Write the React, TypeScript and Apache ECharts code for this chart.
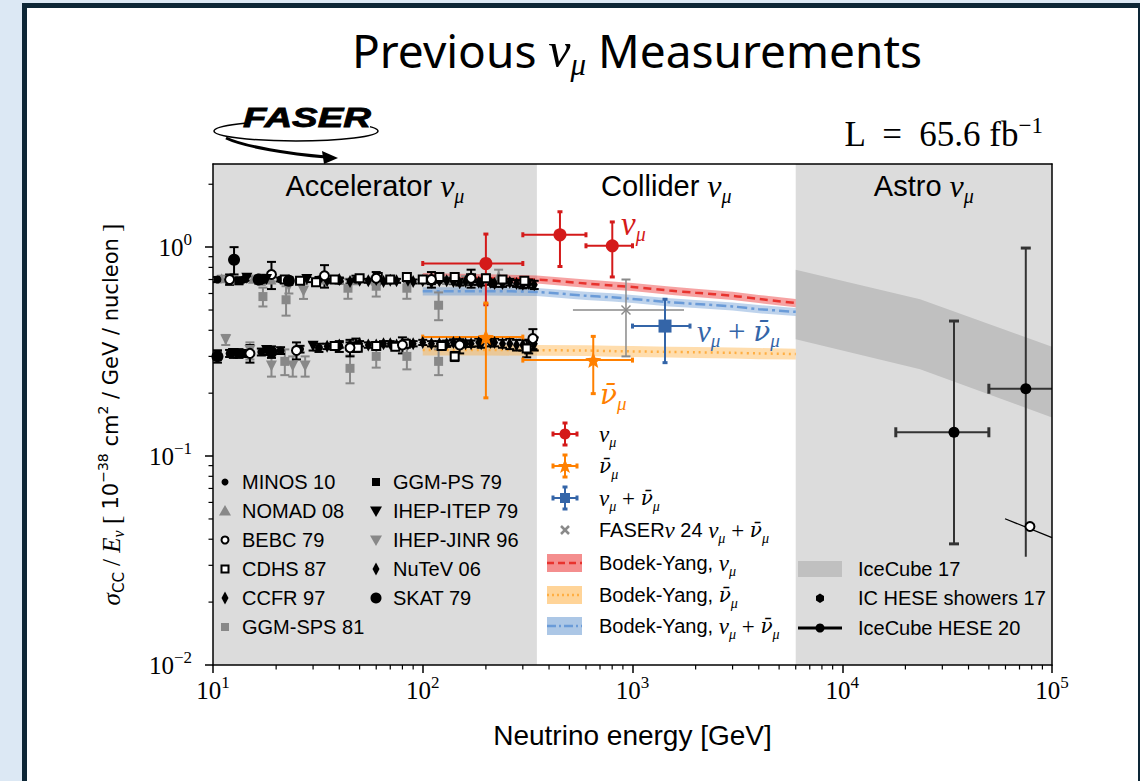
import React, { useEffect, useRef } from "react";
import * as echarts from "echarts";

// ---------------- axes ----------------
const X_RANGE = [10, 100000];
const Y_RANGE = [0.01, 2.5];
const X_MAJOR_TICKS = [10, 100, 1000, 10000, 100000];
const Y_MAJOR_TICKS = [0.01, 0.1, 1];
const X_MINOR_TICKS = [20, 30, 40, 50, 60, 70, 80, 90, 200, 300, 400, 500, 600, 700, 800, 900, 2000, 3000, 4000, 5000, 6000, 7000, 8000, 9000, 20000, 30000, 40000, 50000, 60000, 70000, 80000, 90000];
const Y_MINOR_TICKS = [0.02, 0.03, 0.04, 0.05, 0.06, 0.07, 0.08, 0.09, 0.2, 0.3, 0.4, 0.5, 0.6, 0.7, 0.8, 0.9, 2];

// ---------------- regions ----------------
const REGION_BOUNDS = [[10, 350], [350, 6000], [6000, 100000]];
const REGION_NAMES = ["Accelerator ", "Collider ", "Astro "];

// ---------------- accelerator data [E, sigma/E, err] ----------------
const MINOS_NU = [[10.5, 0.70, 0.02], [12, 0.69, 0.015], [14, 0.70, 0.015], [17, 0.69, 0.015], [21, 0.70, 0.015], [26, 0.69, 0.015], [32, 0.70, 0.02], [40, 0.69, 0.02], [48, 0.70, 0.03]];
const MINOS_NUBAR = [[10.5, 0.305, 0.015], [12, 0.31, 0.012], [14, 0.31, 0.012], [17, 0.315, 0.012], [21, 0.32, 0.012], [26, 0.325, 0.012], [32, 0.33, 0.015], [40, 0.335, 0.02], [48, 0.34, 0.025]];
const NOMAD_NU = [[11, 0.71, 0.02], [13, 0.70, 0.015], [15.5, 0.705, 0.015], [19, 0.70, 0.015], [23, 0.70, 0.015], [27, 0.695, 0.015], [33, 0.70, 0.015], [40, 0.70, 0.015], [48, 0.695, 0.015], [58, 0.70, 0.015], [70, 0.70, 0.015], [85, 0.70, 0.015], [105, 0.705, 0.02], [130, 0.70, 0.02], [160, 0.70, 0.025], [200, 0.71, 0.03], [230, 0.73, 0.05]];
const BEBC_NU = [[12, 0.70, 0.04], [19, 0.74, 0.11], [34, 0.73, 0.09], [60, 0.71, 0.05], [110, 0.70, 0.06], [170, 0.71, 0.07]];
const BEBC_NUBAR = [[15, 0.31, 0.03], [25, 0.32, 0.03], [45, 0.33, 0.03], [80, 0.34, 0.03], [150, 0.34, 0.03], [335, 0.365, 0.04]];
const CDHS_NU = [[22, 0.70, 0.015], [26, 0.69, 0.015], [31, 0.68, 0.015], [38, 0.70, 0.015], [50, 0.71, 0.015], [61, 0.72, 0.015], [70, 0.70, 0.015], [84, 0.72, 0.03], [100, 0.70, 0.02], [120, 0.72, 0.02], [142, 0.72, 0.02], [170, 0.71, 0.02], [200, 0.71, 0.025], [240, 0.70, 0.025], [305, 0.69, 0.03]];
const CDHS_NUBAR = [[38, 0.336, 0.01], [49, 0.33, 0.01], [60, 0.336, 0.01], [74, 0.334, 0.01], [83, 0.345, 0.012], [123, 0.336, 0.012], [142, 0.30, 0.015], [313, 0.327, 0.03]];
const CCFR_NU = [[35, 0.69, 0.015], [45, 0.685, 0.015], [55, 0.69, 0.015], [65, 0.685, 0.015], [75, 0.69, 0.015], [90, 0.685, 0.015], [110, 0.68, 0.015], [130, 0.69, 0.02], [150, 0.675, 0.02], [170, 0.68, 0.02], [190, 0.675, 0.02], [220, 0.67, 0.025], [260, 0.68, 0.025], [300, 0.665, 0.03], [340, 0.66, 0.03]];
const CCFR_NUBAR = [[35, 0.335, 0.01], [45, 0.34, 0.01], [55, 0.34, 0.01], [65, 0.345, 0.01], [75, 0.34, 0.01], [90, 0.345, 0.01], [110, 0.345, 0.01], [130, 0.345, 0.012], [150, 0.35, 0.012], [170, 0.345, 0.012], [190, 0.345, 0.015], [220, 0.35, 0.015], [260, 0.345, 0.02], [300, 0.34, 0.02], [340, 0.345, 0.025]];
const NUTEV_NU = [[40, 0.70, 0.015], [50, 0.695, 0.015], [60, 0.70, 0.015], [70, 0.695, 0.015], [85, 0.695, 0.015], [100, 0.69, 0.015], [120, 0.69, 0.015], [140, 0.685, 0.02], [160, 0.685, 0.02], [185, 0.68, 0.02], [210, 0.68, 0.02], [240, 0.67, 0.025], [280, 0.67, 0.025], [320, 0.67, 0.03]];
const NUTEV_NUBAR = [[40, 0.34, 0.01], [50, 0.345, 0.01], [60, 0.34, 0.01], [70, 0.345, 0.01], [85, 0.345, 0.01], [100, 0.35, 0.01], [120, 0.345, 0.01], [140, 0.35, 0.012], [160, 0.345, 0.012], [185, 0.35, 0.015], [210, 0.35, 0.015], [240, 0.345, 0.015], [280, 0.34, 0.02], [320, 0.335, 0.025]];
const GGMSPS_NU = [[17.3, 0.58, 0.06], [22.3, 0.56, 0.09], [44, 0.636, 0.07], [60, 0.65, 0.07], [84, 0.636, 0.07], [119, 0.527, 0.08]];
const GGMSPS_NUBAR = [[22, 0.284, 0.04], [45, 0.263, 0.04], [60, 0.30, 0.035], [84, 0.30, 0.04], [119, 0.284, 0.04]];
const GGMPS_NU = [[13.3, 0.69, 0.02]];
const GGMPS_NUBAR = [[13.3, 0.31, 0.015]];
const IHEPITEP_NU = [[14.5, 0.71, 0.02], [18, 0.70, 0.02], [28, 0.70, 0.02]];
const IHEPITEP_NUBAR = [[12.5, 0.31, 0.015], [18, 0.32, 0.015], [30, 0.335, 0.015]];
const IHEPJINR_NU = [[17, 0.70, 0.04], [23, 0.65, 0.05], [27, 0.615, 0.05]];
const IHEPJINR_NUBAR = [[11.5, 0.36, 0.02], [15, 0.32, 0.03], [19, 0.27, 0.03], [24, 0.27, 0.03], [27.5, 0.27, 0.03]];
const SKAT_NU = [[12.6, 0.87, 0.13], [16.5, 0.70, 0.03], [23, 0.69, 0.03]];
const SKAT_NUBAR = [[10.5, 0.30, 0.02], [19, 0.315, 0.02]];

// ---------------- FASER data [E, sigma/E, Elo, Ehi, lo, hi] ----------------
const FASER_NU = [[200, 0.835, 100, 300, 0.53, 1.155], [451, 1.146, 300, 600, 0.808, 1.477], [801, 1.015, 600, 1000, 0.72, 1.32]];
const FASER_NUBAR = [[200, 0.371, 100, 300, 0.19, 0.54], [650, 0.288, 300, 1000, 0.199, 0.374]];
const FASER_NUNUBAR = [[1429, 0.419, 1000, 1880, 0.28, 0.563]];
const FASERNU24 = [[931, 0.50, 520, 1760, 0.30, 0.70]];

// ---------------- Bodek-Yang predictions ----------------
const BY_E = [100, 200, 350, 600, 800, 1000, 1500, 2000, 3000, 4000, 6000];
const BY_NU = [0.72, 0.71, 0.70, 0.67, 0.655, 0.645, 0.62, 0.605, 0.585, 0.565, 0.54];
const BY_NU_LO = [0.688, 0.678, 0.669, 0.640, 0.626, 0.616, 0.592, 0.578, 0.559, 0.540, 0.516];
const BY_NU_HI = [0.752, 0.742, 0.732, 0.700, 0.684, 0.674, 0.648, 0.632, 0.611, 0.590, 0.564];
const BY_NUBAR = [0.322, 0.322, 0.321, 0.32, 0.318, 0.317, 0.315, 0.314, 0.312, 0.31, 0.308];
const BY_NUBAR_LO = [0.303, 0.303, 0.302, 0.301, 0.299, 0.298, 0.296, 0.295, 0.293, 0.291, 0.290];
const BY_NUBAR_HI = [0.341, 0.341, 0.340, 0.339, 0.337, 0.336, 0.334, 0.333, 0.331, 0.329, 0.326];
const BY_SUM = [0.615, 0.615, 0.61, 0.585, 0.575, 0.565, 0.545, 0.535, 0.52, 0.505, 0.49];
const BY_SUM_LO = [0.587, 0.587, 0.583, 0.559, 0.549, 0.540, 0.520, 0.511, 0.497, 0.482, 0.468];
const BY_SUM_HI = [0.643, 0.643, 0.637, 0.611, 0.601, 0.590, 0.570, 0.559, 0.543, 0.528, 0.512];

// ---------------- IceCube ----------------
const IC17_E = [6000, 23500, 100000];
const IC17_LO = [0.362, 0.26, 0.153];
const IC17_HI = [0.78, 0.563, 0.334];
const IC_HESE20_A = [[34100, 0.13, 18000, 50000, 0.038, 0.443]];
const IC_HESE20_B = [[75000, 0.21, 50000, 200000, 0.033, 0.99]];
const IC_HESE_SHOWERS17 = [[78500, 0.046]];
const IC_SHOWERS_TREND = [[59700, 0.0501], [100000, 0.0407]];

// ---------------- styles ----------------
const SANS = "Liberation Sans";
const SERIF = "Liberation Serif";
const RED = "#d41a1a";
const ORANGE = "#ff8000";
const BLUE = "#3465a8";
const GRAY = "#888888";
const FX = "#8a8a8a";

function symErrRender(color: string, lw: number, cap: number) {
  return (params: any, api: any) => {
    const e = api.value(0), s = api.value(1), d = api.value(2);
    const t = api.coord([e, s + d]);
    const b = api.coord([e, s - d]);
    const st = { stroke: color, lineWidth: lw };
    return {
      type: "group",
      children: [
        { type: "line", shape: { x1: t[0], y1: t[1], x2: b[0], y2: b[1] }, style: st },
        { type: "line", shape: { x1: t[0] - cap, y1: t[1], x2: t[0] + cap, y2: t[1] }, style: st },
        { type: "line", shape: { x1: b[0] - cap, y1: b[1], x2: b[0] + cap, y2: b[1] }, style: st },
      ],
    };
  };
}

function asymErrRender(color: string, lw: number, cap: number, capLw: number, xCaps = true, bottomCap = true) {
  return (params: any, api: any) => {
    const c = api.coord([api.value(0), api.value(1)]);
    const l = api.coord([api.value(2), api.value(1)]);
    const r = api.coord([api.value(3), api.value(1)]);
    const b = api.coord([api.value(0), api.value(4)]);
    const t = api.coord([api.value(0), api.value(5)]);
    const st = { stroke: color, lineWidth: lw };
    const cs = { stroke: color, lineWidth: capLw };
    const children: any[] = [
      { type: "line", shape: { x1: l[0], y1: c[1], x2: r[0], y2: c[1] }, style: st },
      { type: "line", shape: { x1: c[0], y1: t[1], x2: c[0], y2: b[1] }, style: st },
      { type: "line", shape: { x1: c[0] - cap, y1: t[1], x2: c[0] + cap, y2: t[1] }, style: cs },
    ];
    if (bottomCap) children.push({ type: "line", shape: { x1: c[0] - cap, y1: b[1], x2: c[0] + cap, y2: b[1] }, style: cs });
    if (xCaps) {
      children.push({ type: "line", shape: { x1: l[0], y1: c[1] - cap, x2: l[0], y2: c[1] + cap }, style: cs });
      children.push({ type: "line", shape: { x1: r[0], y1: c[1] - cap, x2: r[0], y2: c[1] + cap }, style: cs });
    }
    return { type: "group", children };
  };
}

function bandRender(E: number[], lo: number[], hi: number[], fill: string) {
  return (params: any, api: any) => {
    if (params.dataIndex !== 0) return null;
    const pts: number[][] = [];
    for (let i = 0; i < E.length; i++) pts.push(api.coord([E[i], hi[i]]));
    for (let i = E.length - 1; i >= 0; i--) pts.push(api.coord([E[i], lo[i]]));
    return { type: "polygon", shape: { points: pts }, style: { fill } };
  };
}

const errSeries = (data: number[][], color: string, lw = 1.8, cap = 4) => ({
  type: "custom", data, clip: true, z: 4, silent: true,
  encode: { x: 0, y: 1 },
  renderItem: symErrRender(color, lw, cap),
});
const markSeries = (name: string, data: number[][], symbol: string, size: any, color: string, border?: string, rotate = 0) => ({
  type: "scatter", name, data: data.map((d) => [d[0], d[1]]), symbol, symbolSize: size, symbolRotate: rotate, z: 5, silent: true,
  itemStyle: border ? { color, borderColor: border, borderWidth: 2, opacity: 1 } : { color, opacity: 1 },
});
const bandSeries = (E: number[], lo: number[], hi: number[], fill: string) => ({
  type: "custom", data: E.map((e, i) => [e, lo[i], hi[i]]), clip: true, z: 2, silent: true,
  encode: { x: 0, y: 1 }, renderItem: bandRender(E, lo, hi, fill),
});
const lineSeries = (E: number[], v: number[], color: string, type: any) => ({
  type: "line", data: E.map((e, i) => [e, v[i]]), symbol: "none", smooth: 0.3, z: 3, silent: true,
  lineStyle: { color, width: 2.5, type },
});

const STAR = "path://M0,-10L2.6,-3.6L9.5,-3.1L4.2,1.4L5.9,8.1L0,4.4L-5.9,8.1L-4.2,1.4L-9.5,-3.1L-2.6,-3.6Z";
const XMARK = "path://M1,0L5,4L9,0L10,1L6,5L10,9L9,10L5,6L1,10L0,9L4,5L0,1Z";

const expStr = (v: number) => {
  const n = Math.round(Math.log10(v));
  return n < 0 ? "\u2212" + Math.abs(n) : String(n);
};

// rich styles for math-ish text
const richSet = (size: number, color: string) => ({
  t: { fontFamily: SANS, fontSize: size, fill: color, color, lineHeight: size + 10 },
  v: { fontFamily: SERIF, fontStyle: "italic", fontSize: size + 3, fill: color, color, lineHeight: size + 10 },
  w: { fontFamily: "DejaVu Serif", fontStyle: "italic", fontSize: size, fill: color, color, lineHeight: size + 10 },
  m: { fontFamily: SERIF, fontSize: size + 3, fill: color, color, lineHeight: size + 10 },
  s: { fontFamily: SERIF, fontStyle: "italic", fontSize: Math.round(size * 0.68), fill: color, color, verticalAlign: "bottom", lineHeight: Math.round(size * 0.55) },
});

const NU = "{v|\u03bd}{s|\u03bc}";
const NUBAR = "{w|\u03bd\u0304}{s|\u03bc}";
const NUSUM = NU + "{m| + }" + NUBAR;

function txt(x: number, y: number, text: string, size: number, color = "#000", align = "left", extra: any = {}) {
  return {
    type: "text", x, y, z: 100, silent: true, ...extra,
    style: { text, rich: richSet(size, color), fill: color, fontSize: size, fontFamily: SANS, align, textAlign: align, verticalAlign: "middle", textVerticalAlign: "middle" },
  };
}

function legendMarker(kind: string, x: number, y: number): any {
  switch (kind) {
    case "dot": return { type: "circle", shape: { cx: x, cy: y, r: 3.5 }, style: { fill: "#000" } };
    case "bigdot": return { type: "circle", shape: { cx: x, cy: y, r: 5.5 }, style: { fill: "#000" } };
    case "ring": return { type: "circle", shape: { cx: x, cy: y, r: 3.5 }, style: { fill: "#fff", stroke: "#000", lineWidth: 2 } };
    case "osq": return { type: "rect", shape: { x: x - 3.5, y: y - 3.5, width: 7, height: 7 }, style: { fill: "#fff", stroke: "#000", lineWidth: 2 } };
    case "gsq": return { type: "rect", shape: { x: x - 4, y: y - 4, width: 8, height: 8 }, style: { fill: GRAY } };
    case "bsq": return { type: "rect", shape: { x: x - 4, y: y - 4, width: 8, height: 8 }, style: { fill: "#000" } };
    case "gtri": return { type: "polygon", shape: { points: [[x, y - 6], [x + 6, y + 4.5], [x - 6, y + 4.5]] }, style: { fill: GRAY } };
    case "btrid": return { type: "polygon", shape: { points: [[x, y + 6], [x + 6, y - 4.5], [x - 6, y - 4.5]] }, style: { fill: "#000" } };
    case "gtrid": return { type: "polygon", shape: { points: [[x, y + 6], [x + 6, y - 4.5], [x - 6, y - 4.5]] }, style: { fill: GRAY } };
    case "dia": return { type: "polygon", shape: { points: [[x, y - 6.5], [x + 3.5, y], [x, y + 6.5], [x - 3.5, y]] }, style: { fill: "#000" } };
  }
  return null;
}

function errIcon(x: number, y: number, color: string, marker: any): any[] {
  const st = { stroke: color, lineWidth: 2 };
  const cs = { stroke: color, lineWidth: 3 };
  return [
    { type: "line", z: 100, shape: { x1: x - 12, y1: y, x2: x + 12, y2: y }, style: st },
    { type: "line", z: 100, shape: { x1: x, y1: y - 11, x2: x, y2: y + 11 }, style: st },
    { type: "line", z: 100, shape: { x1: x - 12, y1: y - 2.5, x2: x - 12, y2: y + 2.5 }, style: cs },
    { type: "line", z: 100, shape: { x1: x + 12, y1: y - 2.5, x2: x + 12, y2: y + 2.5 }, style: cs },
    { type: "line", z: 100, shape: { x1: x - 2.5, y1: y - 11, x2: x + 2.5, y2: y - 11 }, style: cs },
    { type: "line", z: 100, shape: { x1: x - 2.5, y1: y + 11, x2: x + 2.5, y2: y + 11 }, style: cs },
    { ...marker, z: 101 },
  ];
}

function buildGraphic(): any[] {
  const g: any[] = [];
  // Title
  g.push({
    type: "text", x: 637, y: 50, z: 100,
    style: {
      text: "{t|Previous }{v|\u03bd}{s|\u03bc}{t| Measurements}", align: "center", textAlign: "center", verticalAlign: "middle", textVerticalAlign: "middle",
      rich: {
        t: { fontFamily: "Noto Sans", fontSize: 46, fill: "#000", lineHeight: 60 },
        v: { fontFamily: SERIF, fontStyle: "italic", fontSize: 50, fill: "#000", lineHeight: 60 },
        s: { fontFamily: SERIF, fontStyle: "italic", fontSize: 31, fill: "#000", verticalAlign: "bottom", lineHeight: 20 },
      },
    },
  });
  // Luminosity
  g.push({
    type: "text", x: 1043, y: 134, z: 100,
    style: {
      text: "{a|L  =  65.6 fb}{b|\u22121}", align: "right", textAlign: "right", verticalAlign: "middle", textVerticalAlign: "middle",
      rich: {
        a: { fontFamily: SERIF, fontSize: 35, fill: "#000", lineHeight: 40 },
        b: { fontFamily: SERIF, fontSize: 23, fill: "#000", verticalAlign: "top", lineHeight: 22 },
      },
    },
  });
  // FASER logo
  g.push({ type: "ellipse", z: 100, shape: { cx: 296, cy: 131, rx: 82, ry: 10 }, style: { fill: "none", stroke: "#000", lineWidth: 1.5 } });
  g.push({ type: "rect", z: 101, shape: { x: 246, y: 106, width: 124, height: 24 }, style: { fill: "#fff" } });
  g.push({ type: "text", x: 307, y: 118, z: 102, scaleX: 1.42, originX: 0, originY: 0, style: { text: "FASER", fontFamily: SANS, fontWeight: "bold", fontStyle: "italic", fontSize: 27, fill: "#000", stroke: "#000", lineWidth: 0.8, align: "center", textAlign: "center", verticalAlign: "middle", textVerticalAlign: "middle" } });
  g.push({ type: "bezierCurve", z: 101, shape: { x1: 226, y1: 138, x2: 326, y2: 157, cpx1: 245, cpy1: 147, cpx2: 290, cpy2: 154 }, style: { stroke: "#000", lineWidth: 3, fill: "none" } });
  g.push({ type: "polygon", z: 101, shape: { points: [[338, 158], [322, 151], [324, 164]] }, style: { fill: "#000" } });

  // region annotations
  g.push(txt(621, 224, NU, 30, RED));
  g.push(txt(697, 331, NUSUM, 28, BLUE));
  g.push(txt(600, 394, NUBAR, 28, ORANGE));

  // Left legend
  const col1 = [["dot", "MINOS 10"], ["gtri", "NOMAD 08"], ["ring", "BEBC 79"], ["osq", "CDHS 87"], ["dia", "CCFR 97"], ["gsq", "GGM-SPS 81"]];
  const col2 = [["bsq", "GGM-PS 79"], ["btrid", "IHEP-ITEP 79"], ["gtrid", "IHEP-JINR 96"], ["dia", "NuTeV 06"], ["bigdot", "SKAT 79"]];
  const rows = [482, 511, 540, 569, 598, 627];
  col1.forEach((c, i) => { g.push({ ...legendMarker(c[0], 225, rows[i]), z: 100 }); g.push(txt(242, rows[i], "{t|" + c[1] + "}", 20)); });
  col2.forEach((c, i) => { g.push({ ...legendMarker(c[0], 376, rows[i]), z: 100 }); g.push(txt(393, rows[i], "{t|" + c[1] + "}", 20)); });

  // Middle legend
  errIcon(565, 434, RED, { type: "circle", shape: { cx: 565, cy: 434, r: 5.5 }, style: { fill: RED } }).forEach((e) => g.push(e));
  errIcon(565, 466, ORANGE, { type: "polygon", shape: { points: [[565, 459], [567, 464], [572, 464], [568, 467.5], [570, 473], [565, 470], [560, 473], [562, 467.5], [558, 464], [563, 464]] }, style: { fill: ORANGE } }).forEach((e) => g.push(e));
  errIcon(565, 498, BLUE, { type: "rect", shape: { x: 560, y: 493, width: 10, height: 10 }, style: { fill: BLUE } }).forEach((e) => g.push(e));
  g.push({ type: "line", z: 100, shape: { x1: 561, y1: 526, x2: 569, y2: 534 }, style: { stroke: FX, lineWidth: 2.5 } });
  g.push({ type: "line", z: 100, shape: { x1: 569, y1: 526, x2: 561, y2: 534 }, style: { stroke: FX, lineWidth: 2.5 } });
  g.push(txt(599, 434, NU, 20));
  g.push(txt(599, 466, NUBAR, 20));
  g.push(txt(599, 498, NUSUM, 20));
  g.push(txt(599, 530, "{t|FASER}{v|\u03bd}{t| 24 }" + NUSUM, 20));
  const bands = [
    [563, "rgba(235,50,50,0.55)", "#e8332e", [7, 4]],
    [595, "rgba(255,170,50,0.5)", "#ffae42", [2, 3]],
    [626, "rgba(70,130,200,0.45)", "#6a9bd8", [9, 3, 2, 3]],
  ];
  bands.forEach((b: any) => {
    g.push({ type: "rect", z: 100, shape: { x: 547, y: b[0] - 9, width: 35, height: 18 }, style: { fill: b[1] } });
    g.push({ type: "line", z: 101, shape: { x1: 547, y1: b[0], x2: 582, y2: b[0] }, style: { stroke: b[2], lineWidth: 2.5, lineDash: b[3] } });
  });
  g.push(txt(599, 563, "{t|Bodek-Yang, }" + NU, 20));
  g.push(txt(599, 595, "{t|Bodek-Yang, }" + NUBAR, 20));
  g.push(txt(599, 626, "{t|Bodek-Yang, }" + NUSUM, 20));

  // Right legend
  g.push({ type: "rect", z: 100, shape: { x: 798, y: 561, width: 44, height: 16 }, style: { fill: "#c0c0c0" } });
  g.push({ type: "polygon", z: 100, shape: { points: [[820, 593.5], [824, 596], [824, 600.5], [820, 603], [816, 600.5], [816, 596]] }, style: { fill: "#000" } });
  g.push({ type: "line", z: 100, shape: { x1: 798, y1: 628, x2: 842, y2: 628 }, style: { stroke: "#000", lineWidth: 3 } });
  g.push({ type: "circle", z: 101, shape: { cx: 820, cy: 628, r: 4.5 }, style: { fill: "#000" } });
  g.push(txt(858, 569, "{t|IceCube 17}", 20));
  g.push(txt(858, 598, "{t|IC HESE showers 17}", 20));
  g.push(txt(858, 628, "{t|IceCube HESE 20}", 20));
  return g;
}

function buildOption(): any {
  const regionFills = ["#dcdcdc", "rgba(0,0,0,0)", "#dcdcdc"];
  const series: any[] = [];
  // region backgrounds with labels
  series.push({
    type: "custom", data: REGION_BOUNDS.map((r) => [r[0], r[1]]), clip: false, z: 1, silent: true,
    encode: { x: [0, 1] },
    renderItem: (params: any, api: any) => {
      const p0 = api.coord([api.value(0), Y_RANGE[1]]);
      const p1 = api.coord([api.value(1), Y_RANGE[0]]);
      const cx = (p0[0] + p1[0]) / 2;
      return {
        type: "group",
        children: [
          { type: "rect", shape: { x: p0[0], y: p0[1], width: p1[0] - p0[0], height: p1[1] - p0[1] }, style: { fill: regionFills[params.dataIndex] } },
          {
            type: "text", x: cx, y: p0[1] + 22,
            style: {
              text: "{t|" + REGION_NAMES[params.dataIndex] + "}" + NU, align: "center", textAlign: "center", verticalAlign: "middle", textVerticalAlign: "middle",
              rich: richSet(29, "#000"),
            },
          },
        ],
      };
    },
  });
  // IceCube 17 band
  series.push(bandSeries(IC17_E, IC17_LO, IC17_HI, "#c0c0c0"));
  // Bodek-Yang bands and lines
  series.push(bandSeries(BY_E, BY_NU_LO, BY_NU_HI, "rgba(235,50,50,0.45)"));
  series.push(bandSeries(BY_E, BY_SUM_LO, BY_SUM_HI, "rgba(70,130,200,0.35)"));
  series.push(bandSeries(BY_E, BY_NUBAR_LO, BY_NUBAR_HI, "rgba(255,170,50,0.4)"));
  series.push(lineSeries(BY_E, BY_NU, "#e8332e", [8, 5]));
  series.push(lineSeries(BY_E, BY_SUM, "#6a9bd8", [10, 4, 3, 4]));
  series.push(lineSeries(BY_E, BY_NUBAR, "#ffae42", [2, 4]));

  // accelerator error bars + markers
  const acc: [string, number[][], string, any, string, string | undefined, number, string][] = [
    ["GGM-SPS 81", GGMSPS_NU, "rect", 9, GRAY, undefined, 0, GRAY],
    ["GGM-SPS 81", GGMSPS_NUBAR, "rect", 9, GRAY, undefined, 0, GRAY],
    ["IHEP-JINR 96", IHEPJINR_NU, "triangle", 11, GRAY, undefined, 180, GRAY],
    ["IHEP-JINR 96", IHEPJINR_NUBAR, "triangle", 11, GRAY, undefined, 180, GRAY],
    ["NOMAD 08", NOMAD_NU, "triangle", 10, GRAY, undefined, 0, GRAY],
    ["MINOS 10", MINOS_NU, "circle", 8, "#000", undefined, 0, "#000"],
    ["MINOS 10", MINOS_NUBAR, "circle", 8, "#000", undefined, 0, "#000"],
    ["CCFR 97", CCFR_NU, "diamond", [7, 13], "#000", undefined, 0, "#000"],
    ["CCFR 97", CCFR_NUBAR, "diamond", [7, 13], "#000", undefined, 0, "#000"],
    ["NuTeV 06", NUTEV_NU, "diamond", [7, 13], "#000", undefined, 0, "#000"],
    ["NuTeV 06", NUTEV_NUBAR, "diamond", [7, 13], "#000", undefined, 0, "#000"],
    ["CDHS 87", CDHS_NU, "rect", 8, "#fff", "#000", 0, "#000"],
    ["CDHS 87", CDHS_NUBAR, "rect", 8, "#fff", "#000", 0, "#000"],
    ["BEBC 79", BEBC_NU, "circle", 9, "#fff", "#000", 0, "#000"],
    ["BEBC 79", BEBC_NUBAR, "circle", 9, "#fff", "#000", 0, "#000"],
    ["GGM-PS 79", GGMPS_NU, "rect", 9, "#000", undefined, 0, "#000"],
    ["GGM-PS 79", GGMPS_NUBAR, "rect", 9, "#000", undefined, 0, "#000"],
    ["IHEP-ITEP 79", IHEPITEP_NU, "triangle", 11, "#000", undefined, 180, "#000"],
    ["IHEP-ITEP 79", IHEPITEP_NUBAR, "triangle", 11, "#000", undefined, 180, "#000"],
    ["SKAT 79", SKAT_NU, "circle", 12, "#000", undefined, 0, "#000"],
    ["SKAT 79", SKAT_NUBAR, "circle", 12, "#000", undefined, 0, "#000"],
  ];
  acc.forEach((a) => {
    series.push(errSeries(a[1], a[7], 2, 4.5));
    series.push(markSeries(a[0], a[1], a[2], a[3], a[4], a[5], a[6]));
  });

  // FASER
  series.push({ type: "custom", data: FASERNU24, clip: true, z: 4, silent: true, encode: { x: 0, y: 1 }, renderItem: asymErrRender(FX, 1.5, 4.5, 2, false) });
  series.push(markSeries("FASER\u03bd 24", FASERNU24, XMARK, 10, FX));
  series.push({ type: "custom", data: FASER_NU, clip: true, z: 4, silent: true, encode: { x: 0, y: 1 }, renderItem: asymErrRender(RED, 2, 2.5, 3) });
  series.push(markSeries("\u03bd\u03bc", FASER_NU, "circle", 13, RED));
  series.push({ type: "custom", data: FASER_NUBAR, clip: true, z: 4, silent: true, encode: { x: 0, y: 1 }, renderItem: asymErrRender(ORANGE, 2, 2.5, 3) });
  series.push(markSeries("anti \u03bd\u03bc", FASER_NUBAR, STAR, 16, ORANGE));
  series.push({ type: "custom", data: FASER_NUNUBAR, clip: true, z: 4, silent: true, encode: { x: 0, y: 1 }, renderItem: asymErrRender(BLUE, 2, 2.5, 3) });
  series.push(markSeries("\u03bd\u03bc + anti \u03bd\u03bc", FASER_NUNUBAR, "rect", 13, BLUE));

  // IceCube
  series.push({ type: "custom", data: IC_HESE20_A, clip: true, z: 4, silent: true, encode: { x: 0, y: 1 }, renderItem: asymErrRender("#333", 2, 5, 3) });
  series.push({ type: "custom", data: IC_HESE20_B, clip: true, z: 4, silent: true, encode: { x: 0, y: 1 }, renderItem: asymErrRender("#333", 2, 5, 3, true, false) });
  series.push(markSeries("IceCube HESE 20", IC_HESE20_A.concat(IC_HESE20_B), "circle", 11, "#000"));
  series.push({ type: "line", data: IC_SHOWERS_TREND, symbol: "none", z: 4, silent: true, lineStyle: { color: "#000", width: 1.2 } });
  series.push(markSeries("IC HESE showers 17", IC_HESE_SHOWERS17, "circle", 9, "#fff", "#000"));

  // minor ticks
  series.push({
    type: "custom", data: X_MINOR_TICKS.map((v) => [v, Y_RANGE[0]]), clip: false, z: 12, silent: true, encode: { x: 0, y: 1 },
    renderItem: (p: any, api: any) => {
      const c = api.coord([api.value(0), Y_RANGE[0]]);
      return { type: "line", shape: { x1: c[0], y1: c[1], x2: c[0], y2: c[1] + 4.5 }, style: { stroke: "#000", lineWidth: 1.2 } };
    },
  });
  series.push({
    type: "custom", data: Y_MINOR_TICKS.map((v) => [X_RANGE[0], v]), clip: false, z: 12, silent: true, encode: { x: 0, y: 1 },
    renderItem: (p: any, api: any) => {
      const c = api.coord([X_RANGE[0], api.value(1)]);
      return { type: "line", shape: { x1: c[0] - 4.5, y1: c[1], x2: c[0], y2: c[1] }, style: { stroke: "#000", lineWidth: 1.2 } };
    },
  });

  const labelRich = {
    b: { fontFamily: SERIF, fontSize: 25, color: "#000", lineHeight: 32 },
    s: { fontFamily: SERIF, fontSize: 17, color: "#000", verticalAlign: "top", lineHeight: 17 },
  };

  return {
    animation: false,
    backgroundColor: "transparent",
    grid: { left: 213, right: 88, top: 164, bottom: 116, show: false },
    xAxis: [
      {
        type: "log", logBase: 10, min: X_RANGE[0], max: X_RANGE[1], position: "bottom", z: 10,
        axisLine: { show: true, lineStyle: { color: "#000", width: 1.5 } },
        axisTick: { show: true, length: 8, lineStyle: { color: "#000", width: 1.5 }, customValues: X_MAJOR_TICKS },
        axisLabel: { customValues: X_MAJOR_TICKS, margin: 9, formatter: (v: number) => "{b|10}{s|" + expStr(v) + "}", rich: labelRich },
        splitLine: { show: false }, minorTick: { show: false },
        name: "Neutrino energy [GeV]", nameLocation: "middle", nameGap: 56,
        nameTextStyle: { fontFamily: SANS, fontSize: 28, color: "#000" },
      },
      {
        type: "log", logBase: 10, min: X_RANGE[0], max: X_RANGE[1], position: "top", z: 10,
        axisLine: { show: true, lineStyle: { color: "#000", width: 1.5 } },
        axisTick: { show: false }, axisLabel: { show: false }, splitLine: { show: false },
      },
    ],
    yAxis: [
      {
        type: "log", logBase: 10, min: Y_RANGE[0], max: Y_RANGE[1], position: "left", z: 10,
        axisLine: { show: true, lineStyle: { color: "#000", width: 1.5 } },
        axisTick: { show: true, length: 8, lineStyle: { color: "#000", width: 1.5 }, customValues: Y_MAJOR_TICKS },
        axisLabel: { customValues: Y_MAJOR_TICKS, margin: 21, formatter: (v: number) => "{b|10}{s|" + expStr(v) + "}", rich: labelRich },
        splitLine: { show: false },
        name: "{a|\u03c3}{c|CC}{m| / }{a|E}{d|\u03bd}{m| [ }{n|10}{p|\u221238}{n| cm}{p|2}{n| / GeV / nucleon}{m| ]}",
        nameLocation: "middle", nameGap: 87, nameRotate: 90,
        nameTextStyle: {
          rich: {
            a: { fontFamily: SERIF, fontStyle: "italic", fontSize: 25, color: "#000", lineHeight: 30 },
            m: { fontFamily: SERIF, fontSize: 25, color: "#000", lineHeight: 30 },
            n: { fontFamily: "DejaVu Sans", fontSize: 21, color: "#000", lineHeight: 30 },
            c: { fontFamily: "DejaVu Sans", fontSize: 15, color: "#000", verticalAlign: "bottom", lineHeight: 12 },
            d: { fontFamily: SERIF, fontStyle: "italic", fontSize: 16, color: "#000", verticalAlign: "bottom", lineHeight: 12 },
            p: { fontFamily: "DejaVu Sans", fontSize: 14, color: "#000", verticalAlign: "top", lineHeight: 14 },
          },
        },
      },
      {
        type: "log", logBase: 10, min: Y_RANGE[0], max: Y_RANGE[1], position: "right", z: 10,
        axisLine: { show: true, lineStyle: { color: "#000", width: 1.5 } },
        axisTick: { show: false }, axisLabel: { show: false }, splitLine: { show: false },
      },
    ],
    series,
    graphic: buildGraphic(),
  };
}

export default function App() {
  const ref = useRef<HTMLDivElement>(null);
  useEffect(() => {
    if (!ref.current) return;
    const chart = echarts.init(ref.current, null, { renderer: "svg" });
    chart.setOption(buildOption());
    return () => chart.dispose();
  }, []);
  return (
    <div style={{ position: "fixed", left: 0, top: 0, width: 1140, height: 781, background: "#dce8f4", overflow: "hidden" }}>
      <div style={{ position: "absolute", left: 22, top: 3, width: 1118, height: 800, background: "#fff", borderLeft: "5px solid #0d2636", borderTop: "5px solid #0d2636", borderRight: "2px solid #0d2636", boxSizing: "border-box" }} />
      <div ref={ref} style={{ position: "absolute", left: 0, top: 0, width: 1140, height: 781 }} />
    </div>
  );
}
